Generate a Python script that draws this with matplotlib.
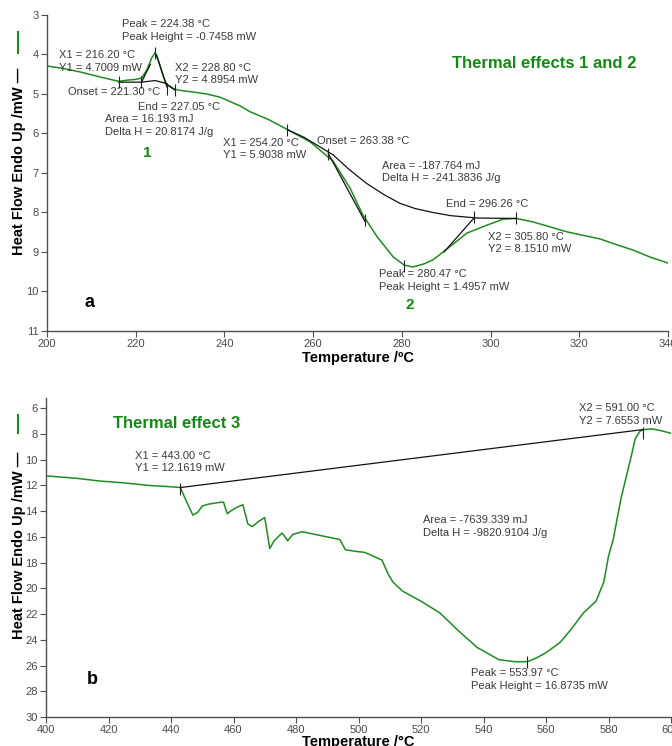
import matplotlib
matplotlib.use("Agg")
import matplotlib.pyplot as plt
from matplotlib.lines import Line2D

plt.rcParams['font.family'] = ['Liberation Sans', 'DejaVu Sans']

GREEN = '#1e8c1e'
TITLE_GREEN = '#138a13'
TXT = '#3a3a3a'
AXC = '#505050'

# ---- Panel a: thermal effects 1 and 2 ----
temp_a = [200, 204, 207.4, 212, 216.2, 218, 220, 221.3, 222.5, 223.6, 224.4, 225,
          226, 226.6, 227.3, 228.8, 230.7, 233, 236, 239, 243.5, 245.8, 250, 254.2,
          259.3, 264.5, 268.3, 271.2, 274.4, 278, 280.5, 282.5, 285, 287, 289.3, 291,
          294.7, 299.2, 302.8, 305.8, 309.6, 313, 317.2, 324.7, 328, 332.1, 336, 340]
flow_a = [4.29, 4.36, 4.44, 4.57, 4.68, 4.65, 4.63, 4.6, 4.39, 4.09, 3.95, 4.12,
          4.48, 4.68, 4.78, 4.88, 4.92, 4.95, 5.0, 5.08, 5.3, 5.45, 5.65, 5.9,
          6.21, 6.7, 7.38, 8.06, 8.61, 9.12, 9.33, 9.38, 9.3, 9.2, 9.0, 8.85,
          8.52, 8.32, 8.17, 8.15, 8.24, 8.35, 8.49, 8.67, 8.8, 8.95, 9.13, 9.28]

# peak 1 baseline and tangents
base1_t = [216.2, 221.3, 224.4, 226.5, 228.8]
base1_y = [4.7009, 4.70, 4.66, 4.72, 4.8954]
onset1_t = [221.3, 223.3]
onset1_y = [4.70, 4.25]
end1_t = [224.7, 227.05]
end1_y = [4.01, 4.82]

# peak 2 baseline and tangents
base2_t = [254.2, 258, 264.5, 268, 272, 276, 279.6, 283, 287, 291, 297, 305.8]
base2_y = [5.9038, 6.1, 6.54, 6.9, 7.26, 7.55, 7.77, 7.9, 8.0, 8.08, 8.14, 8.151]
onset2_t = [263.38, 271.8]
onset2_y = [6.5, 8.25]
end2_t = [296.26, 289.5]
end2_y = [8.14, 9.0]

marks_a_t = [216.2, 221.3, 224.38, 227.05, 228.8, 254.2, 263.38, 271.8, 280.47, 296.26, 305.8]
marks_a_y = [4.70, 4.70, 3.95, 4.88, 4.90, 5.90, 6.52, 8.2, 9.35, 8.12, 8.15]

labels_a = [
    (216.9, 3.23, "Peak = 224.38 °C"),
    (216.9, 3.56, "Peak Height = -0.7458 mW"),
    (202.7, 4.01, "X1 = 216.20 °C"),
    (202.7, 4.34, "Y1 = 4.7009 mW"),
    (228.85, 4.34, "X2 = 228.80 °C"),
    (228.85, 4.65, "Y2 = 4.8954 mW"),
    (204.7, 4.95, "Onset = 221.30 °C"),
    (220.5, 5.33, "End = 227.05 °C"),
    (213.1, 5.63, "Area = 16.193 mJ"),
    (213.1, 5.96, "Delta H = 20.8174 J/g"),
    (239.7, 6.24, "X1 = 254.20 °C"),
    (239.7, 6.54, "Y1 = 5.9038 mW"),
    (260.9, 6.19, "Onset = 263.38 °C"),
    (275.5, 6.82, "Area = -187.764 mJ"),
    (275.5, 7.13, "Delta H = -241.3836 J/g"),
    (289.9, 7.78, "End = 296.26 °C"),
    (299.4, 8.62, "X2 = 305.80 °C"),
    (299.4, 8.92, "Y2 = 8.1510 mW"),
    (274.8, 9.56, "Peak = 280.47 °C"),
    (274.8, 9.89, "Peak Height = 1.4957 mW"),
]

# ---- Panel b: thermal effect 3 ----
temp_b = [400, 410, 417, 425, 433, 440, 443, 444.5, 446, 447, 448.5, 450, 452, 456,
          456.8, 458, 459, 461, 463, 464.6, 466, 468, 470, 471.6, 473, 475.5, 476.5,
          477.3, 479, 482, 487, 494, 495.8, 500, 502, 507.5, 509.5, 511, 514, 520,
          526, 532, 538, 545, 550, 554, 557, 560, 564.5, 568, 572, 576, 578.5, 580,
          581.5, 584, 586, 587.5, 588.5, 590, 591, 594, 597, 600]
flow_b = [11.25, 11.45, 11.65, 11.8, 12.0, 12.1, 12.16, 13.0, 13.8, 14.3, 14.1, 13.6,
          13.45, 13.3, 13.3, 14.2, 14.0, 13.7, 13.5, 15.0, 15.2, 14.8, 14.5, 16.9,
          16.3, 15.7, 16.0, 16.3, 15.8, 15.6, 15.85, 16.2, 17.0, 17.15, 17.2, 17.8,
          18.9, 19.5, 20.2, 21.0, 21.9, 23.3, 24.6, 25.55, 25.7, 25.7, 25.4, 25.0,
          24.2, 23.2, 21.9, 21.0, 19.5, 17.5, 16.2, 13.0, 11.0, 9.5, 8.4, 7.8, 7.66,
          7.6, 7.75, 7.95]

base3_t = [443.0, 591.0]
base3_y = [12.1619, 7.6553]

marks_b_t = [443.0, 591.0, 553.97]
marks_b_y = [12.25, 7.9, 25.75]

labels_b = [
    (428.5, 9.73, "X1 = 443.00 °C"),
    (428.5, 10.66, "Y1 = 12.1619 mW"),
    (570.6, 6.0, "X2 = 591.00 °C"),
    (570.6, 7.01, "Y2 = 7.6553 mW"),
    (520.6, 14.7, "Area = -7639.339 mJ"),
    (520.6, 15.71, "Delta H = -9820.9104 J/g"),
    (536.0, 26.58, "Peak = 553.97 °C"),
    (536.0, 27.59, "Peak Height = 16.8735 mW"),
]

W, H = 672, 746
fig = plt.figure(figsize=(W / 100, H / 100), dpi=100)


def px_axes(left, top, right, bottom):
    return fig.add_axes([left / W, 1 - bottom / H, (right - left) / W, (bottom - top) / H])


def style(ax):
    for s in ('top', 'right'):
        ax.spines[s].set_visible(False)
    for s in ('left', 'bottom'):
        ax.spines[s].set_color(AXC)
        ax.spines[s].set_linewidth(1.0)
    ax.tick_params(direction='out', length=4, width=0.8, color=AXC,
                   labelcolor='#4a4a4a', labelsize=8, pad=2)


ax1 = px_axes(47, 15, 668, 331)
style(ax1)
ax1.plot(temp_a, flow_a, color=GREEN, lw=1.1, zorder=2)
for tt, yy in ((base1_t, base1_y), (onset1_t, onset1_y), (end1_t, end1_y),
               (base2_t, base2_y), (onset2_t, onset2_y), (end2_t, end2_y)):
    ax1.plot(tt, yy, color='#111111', lw=0.9, zorder=3)
ax1.plot(marks_a_t, marks_a_y, ls='none', marker='|', ms=9, mew=0.8, color='#222222', zorder=4)
for x, y, s in labels_a:
    ax1.text(x, y, s, fontsize=8, color=TXT, ha='left', va='center')
ax1.text(222.5, 6.49, "1", fontsize=11, fontweight='bold', color=TITLE_GREEN, ha='center', va='center')
ax1.text(281.8, 10.34, "2", fontsize=11, fontweight='bold', color=TITLE_GREEN, ha='center', va='center')
ax1.text(209.5, 10.29, "a", fontsize=13, fontweight='bold', color='black', ha='center', va='center')
ax1.text(291.3, 4.22, "Thermal effects 1 and 2", fontsize=12, fontweight='bold',
         color=TITLE_GREEN, ha='left', va='center')
ax1.set_xlim(200, 340)
ax1.set_ylim(11, 3)
ax1.set_xticks(range(200, 341, 20))
ax1.set_yticks(range(3, 12))
ax1.set_xlabel("Temperature /ºC", fontsize=10.5, fontweight='bold', labelpad=1)

ax2 = px_axes(46, 398, 671, 717)
style(ax2)
ax2.plot(temp_b, flow_b, color=GREEN, lw=1.1, zorder=2)
ax2.plot(base3_t, base3_y, color='#111111', lw=0.9, zorder=3)
ax2.plot(marks_b_t, marks_b_y, ls='none', marker='|', ms=9, mew=0.8, color='#222222', zorder=4)
for x, y, s in labels_b:
    ax2.text(x, y, s, fontsize=8, color=TXT, ha='left', va='center')
ax2.text(414.7, 27.05, "b", fontsize=13, fontweight='bold', color='black', ha='center', va='center')
ax2.text(421.4, 7.17, "Thermal effect 3", fontsize=12, fontweight='bold',
         color=TITLE_GREEN, ha='left', va='center')
ax2.set_xlim(400, 600)
ax2.set_ylim(30, 5.2)
ax2.set_xticks(range(400, 601, 20))
ax2.set_yticks(range(6, 31, 2))
ax2.set_xlabel("Temperature /°C", fontsize=10.5, fontweight='bold', labelpad=0)

# rotated axis titles with the series key
for yc, g0, g1 in ((161.5, 32, 53), (545, 415, 433)):
    fig.text(19 / W, 1 - yc / H, "Heat Flow Endo Up /mW —", rotation=90,
             fontsize=10.5, fontweight='bold', ha='center', va='center')
    fig.add_artist(Line2D([18 / W, 18 / W], [1 - g0 / H, 1 - g1 / H],
                          transform=fig.transFigure, color=GREEN, lw=1.5))

fig.savefig("out.png", dpi=100)
